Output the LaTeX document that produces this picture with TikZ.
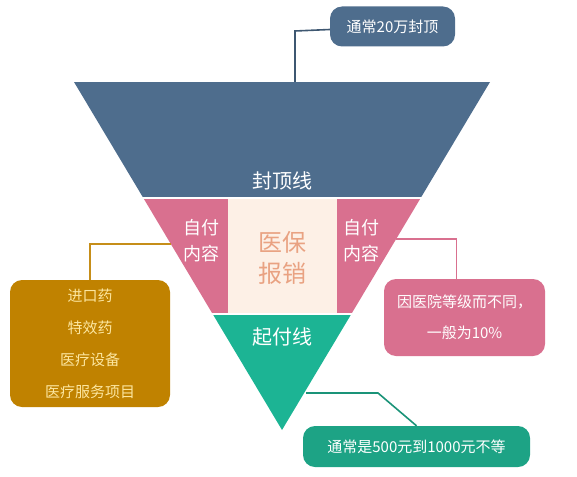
\documentclass[tikz,border=0pt]{standalone}
\usepackage{fontspec}
\setmainfont{Noto Sans CJK SC}
\usepackage{tikz}

\definecolor{capblue}{HTML}{4E6D8D}
\definecolor{selfpink}{HTML}{D9708F}
\definecolor{paycream}{HTML}{FDF0E6}
\definecolor{paysalmon}{HTML}{E9A282}
\definecolor{startgreen}{HTML}{1CB494}
\definecolor{notegreen}{HTML}{1DA385}
\definecolor{drugGold}{HTML}{C08200}
\definecolor{drugText}{HTML}{FCE6A0}

\begin{document}
\begin{tikzpicture}[x=1pt, y=-1pt,
    note/.style={rounded corners=12pt, inner sep=0pt, align=center},
    band/.style={text=white, font=\fontsize{20pt}{24pt}\selectfont},
    link/.style={line width=1.6pt}]
        \useasboundingbox (0,0) rectangle (577,476);

        \begin{scope}
          \clip (74,82) -- (490,82) -- (282,430) -- cycle;
          \fill[capblue]    (0,82)  rectangle (577,197);
          \fill[selfpink]   (0,199) rectangle (577,313);
          \fill[paycream]   (228,199) rectangle (337,313);
          \fill[startgreen] (0,315) rectangle (577,431);
        \end{scope}

        \node[band] (cap) at (282,181) {封顶线};
        \node[band] (start) at (282,337) {起付线};
        \node[text=white, align=center, font=\fontsize{18pt}{26pt}\selectfont] (selfL) at (201,241) {自付\\内容};
        \node[text=white, align=center, font=\fontsize{18pt}{26pt}\selectfont] (selfR) at (361,241) {自付\\内容};
        \node[text=paysalmon, align=center, font=\fontsize{24pt}{31pt}\selectfont] (pay) at (282.5,257.5) {医保\\报销};

        \node[note, fill=capblue, text=white, minimum width=125pt, minimum height=40pt,
              font=\fontsize{15pt}{18pt}\selectfont] (topnote) at (392.5,26.5) {通常20万封顶};
        \node[note, fill=drugGold, text=drugText, minimum width=160pt, minimum height=127pt,
              font=\fontsize{15pt}{32pt}\selectfont] (drugbox) at (90,343.5) {进口药\\特效药\\医疗设备\\医疗服务项目};
        \node[note, fill=selfpink, text=white, minimum width=161pt, minimum height=77pt,
              font=\fontsize{15pt}{31pt}\selectfont] (ratebox) at (464.5,317.5) {因医院等级而不同，\\一般为10\%};
        \node[note, fill=notegreen, text=white, minimum width=227pt, minimum height=41pt,
              font=\fontsize{15pt}{18pt}\selectfont] (minbox) at (416.5,446.5) {通常是500元到1000元不等};

        \coordinate (toptip) at (295,82);
        \coordinate (lefttip) at (171,244);
        \coordinate (righttip) at (396,239);
        \coordinate (bottomtip) at (306,393);

        \draw[link, color=capblue!80!black] (toptip) -- (295,31) -- ([yshift=-3pt]topnote.west);
        \draw[link, color=drugGold!90!white] (lefttip) -| (drugbox.north);
        \draw[link, color=selfpink] (righttip) -| ([xshift=-8pt]ratebox.north);
        \draw[link, color=notegreen!90!black] (bottomtip) -- ++(72,0) -- (minbox.north);
      \end{tikzpicture}
\end{document}
